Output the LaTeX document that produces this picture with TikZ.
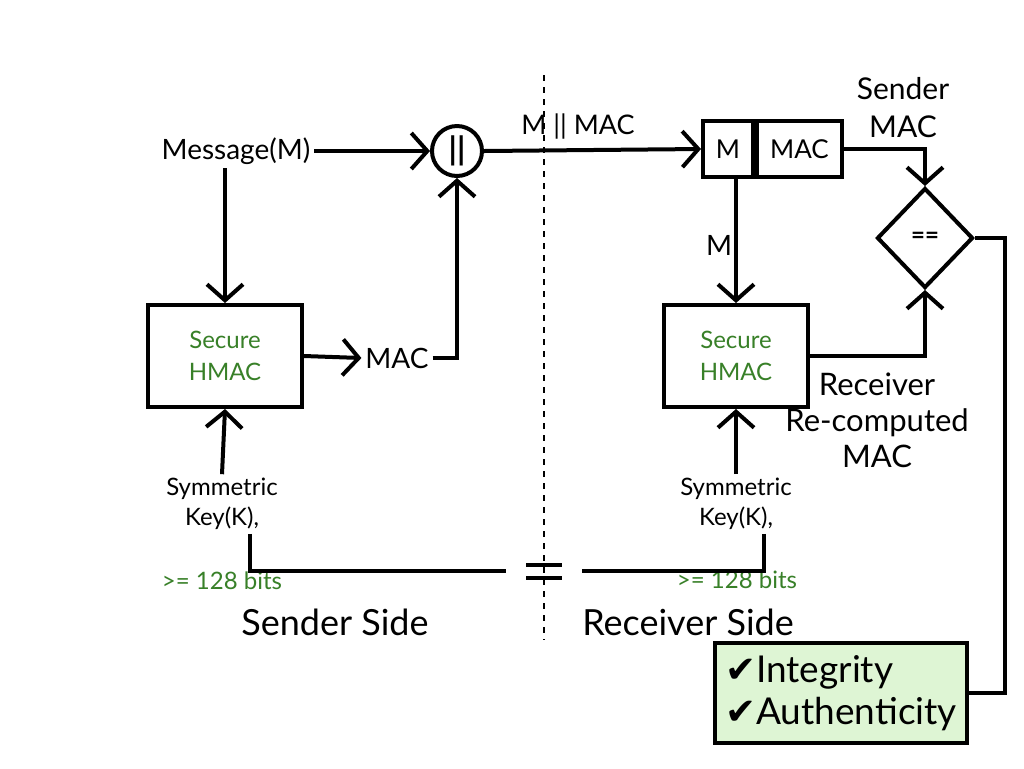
\documentclass[tikz,border=0pt]{standalone}
\usepackage{fontspec}
\setmainfont{Lato}
\newfontfamily\symfont{DejaVu Sans}
\usetikzlibrary{positioning,shapes.geometric,arrows.meta,calc}
\definecolor{hmacgreen}{RGB}{56,128,40}
\definecolor{okfill}{RGB}{222,245,212}

\begin{document}
\begin{tikzpicture}[x=0.5pt,y=-0.5pt,line width=2pt,
    arr/.style={-{Straight Barb[length=8pt,width=18pt,line width=2pt]}},
    hmacbox/.style={draw,rectangle,minimum height=51pt,inner sep=0pt,
        align=center,text=hmacgreen,font=\fontsize{12}{16}\selectfont},
    lbl/.style={align=center,inner sep=1pt,font=\fontsize{14}{18}\selectfont},
    keylbl/.style={align=center,inner sep=1pt,font=\fontsize{12}{15}\selectfont},
    bitslbl/.style={inner sep=0pt,text=hmacgreen,font=\fontsize{12}{12}\selectfont},
    sidelbl/.style={font=\fontsize{18}{20}\selectfont}]
    \useasboundingbox[fill=white] (0,0) rectangle (1024,768);

    % divider
    \draw[line width=1pt,dash pattern=on 3pt off 3pt] (544,75) -- (544,640);

    % sender side
    \node[lbl] (msg) at (236,151) {Message(M)};
    \node[draw,circle,minimum size=25pt,inner sep=0pt,font=\bfseries\fontsize{16}{16}\selectfont] (cat) at (457,151) {||};
    \node[hmacbox,minimum width=77pt] (shmac) at (225,356) {Secure\\HMAC};
    \node[lbl] (smac) at (397,358) {MAC};
    \node[keylbl] (skey) at (222,504) {Symmetric\\Key(K),};
    \node[bitslbl] (sbits) at (222,581) {>= 128 bits};
    \node[sidelbl] (sside) at (335,622) {Sender Side};

    % receiver side
    \node[lbl,font=\fontsize{13.5}{17}\selectfont] (catlbl) at (578,126) {M || MAC};
    \node[draw,rectangle,minimum width=25pt,minimum height=28pt,inner sep=0pt,font=\fontsize{13}{13}\selectfont] (mpart) at (728,149) {M};
    \node[draw,rectangle,minimum width=42.5pt,minimum height=28pt,inner sep=0pt,font=\fontsize{13}{13}\selectfont,right=0pt of mpart] (macpart) {MAC};
    \node[lbl] (mlbl) at (719,245) {M};
    \node[hmacbox,minimum width=72pt] (rhmac) at (736,356) {Secure\\HMAC};
    \node[keylbl] (rkey) at (736,504) {Symmetric\\Key(K),};
    \node[bitslbl] (rbits) at (737,580) {>= 128 bits};
    \node[sidelbl] (rside) at (688,622) {Receiver Side};
    \node[lbl,font=\fontsize{15}{19}\selectfont] (sndmac) at (903,108) {Sender\\MAC};
    \node[draw,diamond,minimum width=48pt,minimum height=50pt,inner sep=0pt,font=\bfseries\fontsize{12}{12}\selectfont] (eq) at (925,238) {==};
    \node[lbl,font=\fontsize{15.5}{18}\selectfont] (rcvmac) at (877,420) {Receiver\\Re-computed\\MAC};
    \node[draw,rectangle,fill=okfill,minimum width=126pt,minimum height=50pt,inner sep=2pt,align=left,font=\fontsize{18.5}{21}\selectfont] (ok) at (841,693)
        {{\symfont ✔}Integrity\\{\symfont ✔}Authenticity};

    % key equality
    \node[minimum width=36pt,inner sep=0pt] (keyeq) at (544,571) {};
    \draw[line width=2.4pt] ($(keyeq.center)+(-18,-6)$) -- ++(36,0);
    \draw[line width=2.4pt] ($(keyeq.center)+(-18,7)$) -- ++(36,0);

    % connectors
    \draw[arr] (msg.east) -- (cat.west);
    \draw[arr] (msg.south -| shmac.north) -- (shmac.north);
    \draw[arr] (shmac.east) -- (smac.west);
    \draw[arr] (smac.east) -| (cat.south);
    \draw[arr] (skey.north) -- (shmac.south);
    \draw[arr] (cat.east) -- (mpart.west);
    \draw[arr] (mpart.south -| rhmac.north) -- (rhmac.north);
    \draw[arr] (rkey.north) -- (rhmac.south);
    \draw[arr] (macpart.east) -| (eq.north);
    \draw[arr] (rhmac.east) -| (eq.south);
    \draw (eq.east) -- ($(eq.east)+(30,0)$) |- (ok.east);
    \draw ([xshift=14pt]skey.south) |- (keyeq.west);
    \draw ([xshift=14pt]rkey.south) |- (keyeq.east);
\end{tikzpicture}
\end{document}
